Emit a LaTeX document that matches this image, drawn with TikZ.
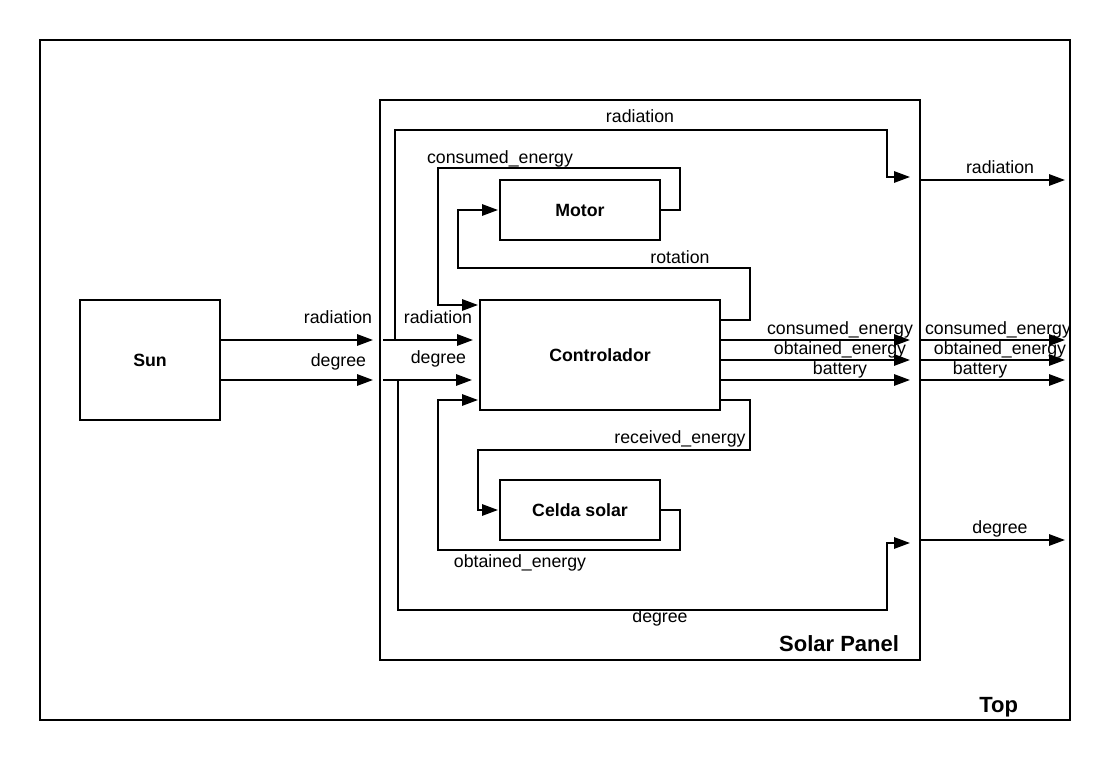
\documentclass[tikz,border=0pt]{standalone}
\usepackage{fontspec}
\setmainfont{Liberation Sans}
\usetikzlibrary{arrows.meta,calc}
\begin{document}
\begin{tikzpicture}[x=0.75pt,y=-0.75pt,
  line width=1.5pt, line join=miter,
  box/.style={draw, line width=1.5pt, inner sep=0pt, font=\fontsize{13.3}{15}\selectfont\bfseries},
  conn/.style={line width=1.5pt, -{Triangle[length=12pt,width=8.5pt]}},
  lbl/.style={inner sep=0pt, font=\fontsize{13.3}{15}\selectfont},
  ttl/.style={inner sep=0pt, font=\fontsize{16.5}{19}\selectfont\bfseries}]
\useasboundingbox (0,0) rectangle (1120,760);
\fill[white] (0,0) rectangle (1120,760);

% boxes
\node[box, minimum width=772.5pt, minimum height=510pt] (top) at (555,380) {};
\node[box, minimum width=405pt, minimum height=420pt] (panel) at (650,380) {};
\node[box, minimum width=105pt, minimum height=90pt] (sun) at (150,360) {Sun};
\node[box, minimum width=120pt, minimum height=45pt] (motor) at (580,210) {Motor};
\node[box, minimum width=180pt, minimum height=82.5pt] (ctrl) at (600,355) {Controlador};
\node[box, minimum width=120pt, minimum height=45pt] (celda) at (580,510) {Celda solar};

% level coordinates
\coordinate (y320) at (0,320);
\coordinate (y340) at (0,340);
\coordinate (y360) at (0,360);
\coordinate (y380) at (0,380);
\coordinate (y400) at (0,400);
\coordinate (y177) at (0,177);
\coordinate (y180) at (0,180);
\coordinate (y540) at (0,540);

% port coordinates
\coordinate (a1) at (373,340);
\coordinate (a2) at (373,380);
\coordinate (b1) at (383,340);
\coordinate (b2) at (383,380);
\coordinate (br1) at (395,340);
\coordinate (br2) at (398,380);
\coordinate (c1) at (473,340);
\coordinate (c2) at (472,380);
\coordinate (o1) at (910,340);
\coordinate (o2) at (910,360);
\coordinate (o3) at (910,380);
\coordinate (q1) at (1065,340);
\coordinate (q2) at (1065,360);
\coordinate (q3) at (1065,380);
\coordinate (rr) at (910,177);
\coordinate (rd) at (910,543);
\coordinate (qr) at (1065,180);
\coordinate (qd) at (1065,540);

% Sun to panel
\draw[conn] (sun.east |- y340) -- (a1);
\draw[conn] (sun.east |- y380) -- (a2);
% panel entry to controlador
\draw[conn] (b1) -- (c1);
\draw[conn] (b2) -- (c2);
% radiation pass-through
\draw[conn] (br1) |- (887,130) |- (rr);
% degree pass-through
\draw[conn] (br2) |- (887,610) |- (rd);
% consumed energy from motor
\draw[conn] (motor.east) -- (680,210) |- (438,168) |- (478,305);
% rotation to motor
\draw[conn] (ctrl.east |- y320) -- (750,320) |- (458,268) |- (498,210);
% received energy to celda
\draw[conn] (ctrl.east |- y400) -- (750,400) |- (478,450) |- (498,510);
% obtained energy from celda
\draw[conn] (celda.east) -- (680,510) |- (438,550) |- (478,400);
% controlador outputs
\draw[conn] (ctrl.east |- y340) -- (o1);
\draw[conn] (ctrl.east |- y360) -- (o2);
\draw[conn] (ctrl.east |- y380) -- (o3);
% panel outputs
\draw[conn] (panel.east |- y340) -- (q1);
\draw[conn] (panel.east |- y360) -- (q2);
\draw[conn] (panel.east |- y380) -- (q3);
\draw[conn] (panel.east |- y180) -- (qr);
\draw[conn] (panel.east |- y540) -- (qd);

% labels
\node[lbl, anchor=base east] (l1) at (373,323) {radiation};
\node[lbl, anchor=base east] (l2) at (367,366) {degree};
\node[lbl, anchor=base east] (l3) at (473,323) {radiation};
\node[lbl, anchor=base east] (l4) at (467,363) {degree};
\node[lbl, anchor=base] (l5) at (640,122) {radiation};
\node[lbl, anchor=base] (l6) at (500,163) {consumed\_energy};
\node[lbl, anchor=base] (l7) at (680,263) {rotation};
\node[lbl, anchor=base] (l8) at (840,334) {consumed\_energy};
\node[lbl, anchor=base] (l9) at (840,354) {obtained\_energy};
\node[lbl, anchor=base] (l10) at (840,374) {battery};
\node[lbl, anchor=base] (l11) at (998,334) {consumed\_energy};
\node[lbl, anchor=base] (l12) at (1000,354) {obtained\_energy};
\node[lbl, anchor=base] (l13) at (980,374) {battery};
\node[lbl, anchor=base] (l14) at (1000,173) {radiation};
\node[lbl, anchor=base] (l15) at (1000,533) {degree};
\node[lbl, anchor=base] (l16) at (680,443) {received\_energy};
\node[lbl, anchor=base] (l17) at (520,567) {obtained\_energy};
\node[lbl, anchor=base] (l18) at (660,622) {degree};
\node[ttl, anchor=base east] (l19) at (900,651) {Solar Panel};
\node[ttl, anchor=base east] (l20) at (1019,712) {Top};
\end{tikzpicture}
\end{document}
